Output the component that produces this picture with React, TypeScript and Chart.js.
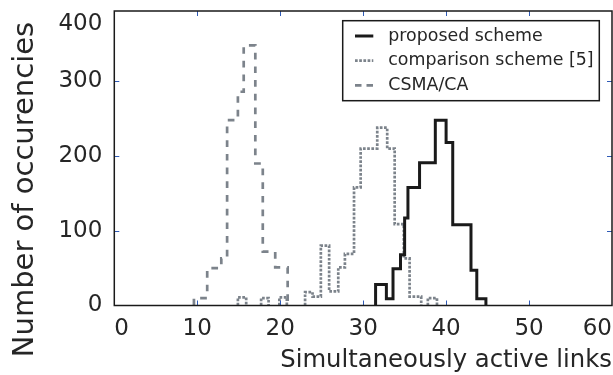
import React, { useEffect, useRef } from "react";
import { Chart, registerables } from "chart.js";

Chart.register(...registerables);

// ---- data ----
const xTicks = [0, 10, 20, 30, 40, 50, 60];
const yTicks = [0, 100, 200, 300, 400];
const xMin = 0;
const xMax = 60;
const yMax = 394;

const xTitle = "Simultaneously active links";
const yTitle = "Number of occurencies";
const seriesLabels = ["proposed scheme", "comparison scheme [5]", "CSMA/CA"];

const proposedEdges = [31.5, 32.8, 33.6, 34.5, 35.0, 35.4, 36.8, 38.7, 40.0, 40.8, 43.0, 43.7, 44.8];
const proposedCounts = [28, 9, 49, 68, 117, 158, 191, 248, 218, 108, 47, 9, 0];

const comparisonEdges = [14.9, 15.9, 17.7, 18.6, 19.9, 20.8, 23.0, 23.9, 24.9, 25.9, 27.0, 27.8, 28.9, 29.7, 31.7, 32.9, 33.8, 34.9, 35.6, 37.0, 37.8, 38.9];
const comparisonCounts = [11, 0, 10, 0, 11, 0, 18, 12, 80, 19, 51, 69, 158, 210, 238, 210, 109, 63, 12, 0, 10, 0];

const csmaEdges = [9.6, 11.2, 12.9, 13.6, 14.9, 15.6, 17.0, 17.9, 19.4, 20.9];
const csmaCounts = [10, 50, 63, 248, 286, 348, 190, 72, 51, 0];

// ---- styles ----
const FONT = "'DejaVu Sans', Verdana, sans-serif";
const TEXT = "#262626";
const BLACK = "#1a1a1a";
const GRAY = "#7c838b";
const TICK_BLUE = "#2f5bb7";
const DOT = [2.7, 1.5];
const DASH = [6.7, 7];

type Pt = { x: number; y: number | null };

function toSteps(edges: number[], counts: number[]): Pt[] {
  const pts: Pt[] = [];
  for (let i = 0; i < edges.length; i++) {
    if (i === 0 || counts[i - 1] === 0) {
      if (i > 0) pts.push({ x: (edges[i - 1] + edges[i]) / 2, y: null });
      pts.push({ x: edges[i], y: 0 });
    }
    pts.push({ x: edges[i], y: counts[i] });
  }
  return pts;
}

const decor = {
  id: "decor",
  afterDatasetsDraw(chart: any) {
    const { ctx, chartArea: a, scales } = chart;
    const xs = scales.x;
    const ys = scales.y;
    ctx.save();

    // inside tick marks
    ctx.strokeStyle = TICK_BLUE;
    ctx.lineWidth = 1;
    ctx.setLineDash([]);
    ctx.beginPath();
    xTicks.forEach((v) => {
      if (v <= xMin || v >= xMax) return;
      const px = Math.round(xs.getPixelForValue(v)) + 0.5;
      ctx.moveTo(px, a.bottom);
      ctx.lineTo(px, a.bottom - 5);
      ctx.moveTo(px, a.top);
      ctx.lineTo(px, a.top + 5);
    });
    yTicks.forEach((v) => {
      if (v <= 0 || v >= yMax) return;
      const py = Math.round(ys.getPixelForValue(v)) + 0.5;
      ctx.moveTo(a.left, py);
      ctx.lineTo(a.left + 5, py);
      ctx.moveTo(a.right, py);
      ctx.lineTo(a.right - 5, py);
    });
    ctx.stroke();

    // frame
    ctx.strokeStyle = BLACK;
    ctx.lineWidth = 1.5;
    ctx.strokeRect(a.left, a.top, a.right - a.left, a.bottom - a.top);

    // y axis title
    ctx.save();
    ctx.fillStyle = TEXT;
    ctx.font = `29px ${FONT}`;
    ctx.textAlign = "center";
    ctx.textBaseline = "alphabetic";
    ctx.translate(33.3, chart.height / 2 + 2);
    ctx.rotate(-Math.PI / 2);
    ctx.fillText(yTitle, 0, 0);
    ctx.restore();

    // legend
    const bx = a.right - 269.3;
    const by = a.top + 9.7;
    const bw = 256.6;
    const bh = 80;
    ctx.fillStyle = "#ffffff";
    ctx.fillRect(bx, by, bw, bh);
    ctx.strokeStyle = BLACK;
    ctx.lineWidth = 1.5;
    ctx.strokeRect(bx, by, bw, bh);
    const rows = [15.3, 40, 64.6];
    chart.data.datasets.forEach((ds: any, i: number) => {
      const y = by + rows[i];
      ctx.strokeStyle = ds.borderColor;
      ctx.lineWidth = ds.borderWidth;
      ctx.setLineDash(i === 2 ? [6.5, 5] : ds.borderDash || []);
      ctx.beginPath();
      ctx.moveTo(bx + 12.3, y);
      ctx.lineTo(bx + 30.6, y);
      ctx.stroke();
      ctx.setLineDash([]);
      ctx.fillStyle = TEXT;
      ctx.font = `17.4px ${FONT}`;
      ctx.textAlign = "left";
      ctx.textBaseline = "middle";
      ctx.fillText(ds.label, bx + 45.6, y);
    });

    ctx.restore();
  },
};

export default function App() {
  const ref = useRef<HTMLCanvasElement>(null);

  useEffect(() => {
    document.body.style.margin = "0";
    const canvas = ref.current;
    if (!canvas) return;

    const chart = new Chart(canvas, {
      type: "line",
      data: {
        datasets: [
          {
            label: seriesLabels[0],
            data: toSteps(proposedEdges, proposedCounts),
            borderColor: BLACK,
            borderWidth: 3,
            stepped: true,
            pointRadius: 0,
            fill: false,
            spanGaps: false,
            borderCapStyle: "butt",
            borderJoinStyle: "miter",
          },
          {
            label: seriesLabels[1],
            data: toSteps(comparisonEdges, comparisonCounts),
            borderColor: GRAY,
            borderWidth: 2.7,
            borderDash: DOT,
            stepped: true,
            pointRadius: 0,
            fill: false,
            spanGaps: false,
            borderCapStyle: "butt",
            borderJoinStyle: "miter",
          },
          {
            label: seriesLabels[2],
            data: toSteps(csmaEdges, csmaCounts),
            borderColor: GRAY,
            borderWidth: 2.7,
            borderDash: DASH,
            stepped: true,
            pointRadius: 0,
            fill: false,
            spanGaps: false,
            borderCapStyle: "butt",
            borderJoinStyle: "miter",
          },
        ] as any,
      },
      options: {
        animation: false,
        responsive: true,
        maintainAspectRatio: false,
        layout: { padding: { top: 11, right: 1, bottom: 0, left: 0 } },
        plugins: {
          legend: { display: false },
          tooltip: { enabled: false },
        },
        scales: {
          x: {
            type: "linear",
            min: xMin,
            max: xMax,
            afterBuildTicks: (s: any) => {
              s.ticks = xTicks.map((v) => ({ value: v }));
            },
            afterFit: (s: any) => {
              s.height = 69.5;
              s.paddingLeft = 0;
              s.paddingRight = 0;
            },
            ticks: {
              align: "inner",
              padding: 10,
              color: TEXT,
              font: { family: FONT, size: 23 },
              maxRotation: 0,
              autoSkip: false,
              callback: (v: any) => String(v),
            },
            grid: { display: false, drawTicks: false },
            border: { display: false },
            title: {
              display: true,
              text: xTitle,
              align: "end",
              color: TEXT,
              font: { family: FONT, size: 24.3 },
              padding: 0,
            },
          },
          y: {
            type: "linear",
            min: 0,
            max: yMax,
            afterBuildTicks: (s: any) => {
              s.ticks = yTicks.map((v) => ({ value: v >= yMax ? yMax - 18 : v }));
            },
            afterFit: (s: any) => {
              s.width = 114.3;
              s.paddingTop = 0;
              s.paddingBottom = 0;
            },
            ticks: {
              padding: 12,
              color: TEXT,
              font: { family: FONT, size: 23 },
              autoSkip: false,
              callback: (_v: any, i: number) => String(yTicks[i]),
            },
            grid: { display: false, drawTicks: false },
            border: { display: false },
          },
        },
      } as any,
      plugins: [decor],
    });

    return () => chart.destroy();
  }, []);

  return (
    <div style={{ position: "relative", width: 613, height: 375 }}>
      <canvas ref={ref} />
    </div>
  );
}
